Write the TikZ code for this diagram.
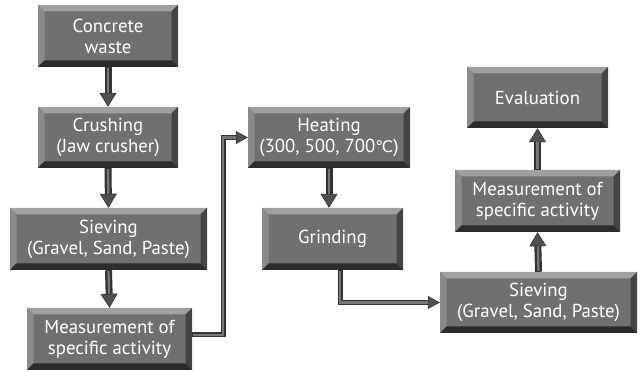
\documentclass[tikz,border=0pt]{standalone}
\usepackage{fontspec}
\setmainfont{PT Sans}
\newfontfamily\symfont{DejaVu Sans}
\usetikzlibrary{arrows.meta,calc}
\definecolor{face}{HTML}{707070}
\definecolor{bvtop}{HTML}{A0A0A0}
\definecolor{bvleft}{HTML}{8A8A8A}
\definecolor{bvright}{HTML}{444444}
\definecolor{bvbot}{HTML}{2C2C2C}
\definecolor{shaftdark}{HTML}{333333}
\definecolor{shaftlight}{HTML}{777777}
\definecolor{headfill}{HTML}{505050}
\newcommand{\bw}{6.5}
\tikzset{
  box/.style={rectangle, fill=face, text=white, align=center,
    font=\fontsize{18.8}{21}\selectfont, inner sep=0pt,
    minimum width=#1,
    path picture={
      \path (path picture bounding box.north west) coordinate (bnw)
            (path picture bounding box.north east) coordinate (bne)
            (path picture bounding box.south west) coordinate (bsw)
            (path picture bounding box.south east) coordinate (bse);
      \fill[bvtop] (bnw) -- (bne) -- ($(bne)+(-\bw,-\bw)$) -- ($(bnw)+(\bw,-\bw)$) -- cycle;
      \fill[bvleft] (bnw) -- ($(bnw)+(\bw,-\bw)$) -- ($(bsw)+(\bw,\bw)$) -- (bsw) -- cycle;
      \fill[bvright] (bne) -- ($(bne)+(-\bw,-\bw)$) -- ($(bse)+(-\bw,\bw)$) -- (bse) -- cycle;
      \fill[bvbot] (bsw) -- (bse) -- ($(bse)+(-\bw,\bw)$) -- ($(bsw)+(\bw,\bw)$) -- cycle;
    }},
  vshaft/.style={draw=shaftdark, line width=7pt,
    -{Triangle[length=14pt,width=17pt,line width=0.6pt,fill=headfill]}},
  vinner/.style={draw=shaftlight, line width=2.2pt, shorten >=14pt, shorten <=1pt},
  eshaft/.style={draw=shaftdark, line width=5pt, line join=miter,
    -{Triangle[length=12pt,width=13pt,line width=0.6pt,fill=headfill]}},
  einner/.style={draw=shaftlight, line width=2.4pt, line join=miter, shorten >=12pt, shorten <=1pt},
}
\newcommand{\varr}[2]{%
  \draw[vshaft] (#1) -- (#2);
  \draw[vinner] (#1) -- (#2);}
\begin{document}
\begin{tikzpicture}[x=1pt,y=1pt]
\useasboundingbox (0,0) rectangle (640,372);
\node[box=140pt, minimum height=62pt] (c1) at (108,336) {Concrete\\waste};
\node[box=140pt, minimum height=61pt] (c2) at (108,234.5) {Crushing\\(Jaw crusher)};
\node[box=197pt, minimum height=62pt] (c3) at (108.5,133) {Sieving\\(Gravel, Sand, Paste)};
\node[box=165pt, minimum height=62pt] (c4) at (109.5,33) {Measurement of\\specific activity};
\node[box=162pt, minimum height=61pt] (heat) at (329,234.5) {Heating\\(300, 500, 700{\symfont\fontsize{16}{18}\selectfont ℃})};
\node[box=141pt, minimum height=62pt] (grind) at (332.5,133) {Grinding};
\node[box=197pt, minimum height=61pt] (sieve2) at (538.5,69.5) {Sieving\\(Gravel, Sand, Paste)};
\node[box=165pt, minimum height=62pt] (meas2) at (537.5,171) {Measurement of\\specific activity};
\node[box=141pt, minimum height=61pt] (eval) at (537.5,274.5) {Evaluation};

\varr{c1.south}{c2.north}
\varr{c2.south}{c3.north}
\varr{c3.south}{c4.north}
\varr{heat.south}{heat.south |- grind.north}
\varr{sieve2.north}{meas2.south}
\varr{meas2.north}{eval.south}

\draw[eshaft] ([yshift=4pt]c4.east) -- ++(31,0) |- (heat.west);
\draw[einner] ([yshift=4pt]c4.east) -- ++(31,0) |- (heat.west);
\draw[eshaft] ([xshift=7.5pt]grind.south) |- (sieve2.west);
\draw[einner] ([xshift=7.5pt]grind.south) |- (sieve2.west);
\end{tikzpicture}
\end{document}
